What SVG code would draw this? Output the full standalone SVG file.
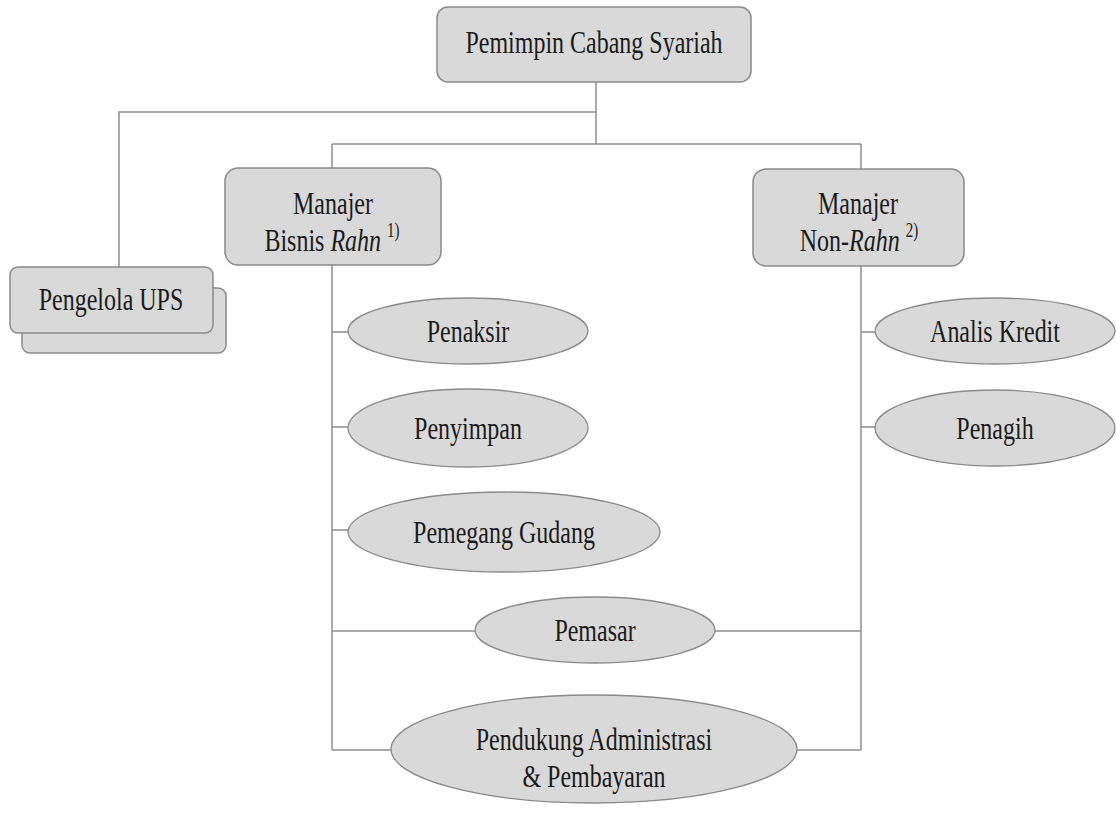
<svg xmlns="http://www.w3.org/2000/svg" width="1116" height="831" viewBox="0 0 1116 831">
<style>
.box{fill:#d9d9d9;stroke:#8a8a8a;stroke-width:1.5}
.ell{fill:#d9d9d9;stroke:#8a8a8a;stroke-width:1.3}
.ln{fill:none;stroke:#8f8f8f;stroke-width:1.5}
.t{fill:#1a1a1a;text-anchor:middle}
</style>
<rect width="1116" height="831" fill="#ffffff"/>
<g id="connectors">
<path class="ln" d="M596,82 V144 M596,112 H119 V267 M332,144 H861 M332,144 V168 M861,144 V169"/>
<path class="ln" d="M332,265 V750 M861,266 V750"/>
<path class="ln" d="M332,332 H348 M332,427 H348 M332,530 H348 M332,631 H475 M715,631 H861 M332,750 H394 M795,750 H861"/>
<path class="ln" d="M861,332 H875 M861,427 H875"/>
</g>
<g id="pemimpin">
<rect class="box" x="437" y="7" width="314" height="75" rx="11"/>
<text class="t" style="font-family:'Liberation Serif',serif;font-size:32px" transform="translate(594,53) scale(0.75,1)">Pemimpin Cabang Syariah</text>
</g>
<g id="manajer-bisnis">
<rect class="box" x="225" y="168" width="216" height="97" rx="13"/>
<text font-family="Liberation Serif" font-size="32" fill="#1a1a1a" text-anchor="middle" x="444" y="214" transform="scale(0.75,1)">Manajer</text>
<text font-family="Liberation Serif" font-size="32" fill="#1a1a1a" text-anchor="middle" x="442.7" y="251" transform="scale(0.75,1)">Bisnis <tspan font-family="Liberation Serif" font-style="italic">Rahn</tspan> <tspan font-size="20" dy="-14">1)</tspan></text>
</g>
<g id="manajer-non">
<rect class="box" x="753" y="169" width="211" height="97" rx="13"/>
<text font-family="Liberation Serif" font-size="32" fill="#1a1a1a" text-anchor="middle" x="1144" y="214" transform="scale(0.75,1)">Manajer</text>
<text font-family="Liberation Serif" font-size="32" fill="#1a1a1a" text-anchor="middle" x="1145.3" y="251" transform="scale(0.75,1)">Non-<tspan font-family="Liberation Serif" font-style="italic">Rahn</tspan> <tspan font-size="20" dy="-14">2)</tspan></text>
</g>
<g id="pengelola-ups">
<rect class="box" x="22" y="288" width="204" height="65" rx="8"/>
<rect class="box" x="10" y="267" width="203" height="66" rx="8"/>
<text text-anchor="middle" fill="#1a1a1a" style="font-family:'Liberation Serif';font-size:32px" transform="translate(111,310) scale(0.75,1)">Pengelola UPS</text>
</g>
<g id="penaksir">
<ellipse class="ell" cx="468" cy="331" rx="120" ry="33"/>
<text class="t" style="font-family:'Liberation Serif';font-size:32px" transform="translate(468,342) scale(0.75,1)">Penaksir</text>
</g>
<g id="penyimpan">
<ellipse class="ell" cx="468" cy="428" rx="120" ry="39"/>
<text class="t" style="font-family:'Liberation Serif';font-size:32px" transform="translate(468,439) scale(0.75,1)">Penyimpan</text>
</g>
<g id="pemegang-gudang">
<ellipse class="ell" cx="504" cy="532" rx="156" ry="40"/>
<text class="t" style="font-family:'Liberation Serif';font-size:32px" transform="translate(504,543) scale(0.75,1)">Pemegang Gudang</text>
</g>
<g id="pemasar">
<ellipse class="ell" cx="595" cy="630" rx="120" ry="33"/>
<text class="t" style="font-family:'Liberation Serif';font-size:32px" transform="translate(595,641) scale(0.75,1)">Pemasar</text>
</g>
<g id="pendukung">
<ellipse class="ell" cx="594" cy="749" rx="203" ry="54"/>
<text class="t" style="font-family:'Liberation Serif';font-size:32px" transform="translate(594,750) scale(0.75,1)">Pendukung Administrasi</text>
<text class="t" style="font-family:'Liberation Serif';font-size:32px" transform="translate(594,787) scale(0.75,1)">&amp; Pembayaran</text>
</g>
<g id="analis-kredit">
<ellipse class="ell" cx="995" cy="331" rx="120" ry="33"/>
<text class="t" style="font-family:'Times New Roman',serif;font-size:32px" transform="translate(995,342) scale(0.75,1)">Analis Kredit</text>
</g>
<g id="penagih">
<ellipse class="ell" cx="995" cy="428" rx="120" ry="38"/>
<text class="t" style="font-family:'Times New Roman',serif;font-size:32px" transform="translate(995,439) scale(0.75,1)">Penagih</text>
</g>
</svg>
